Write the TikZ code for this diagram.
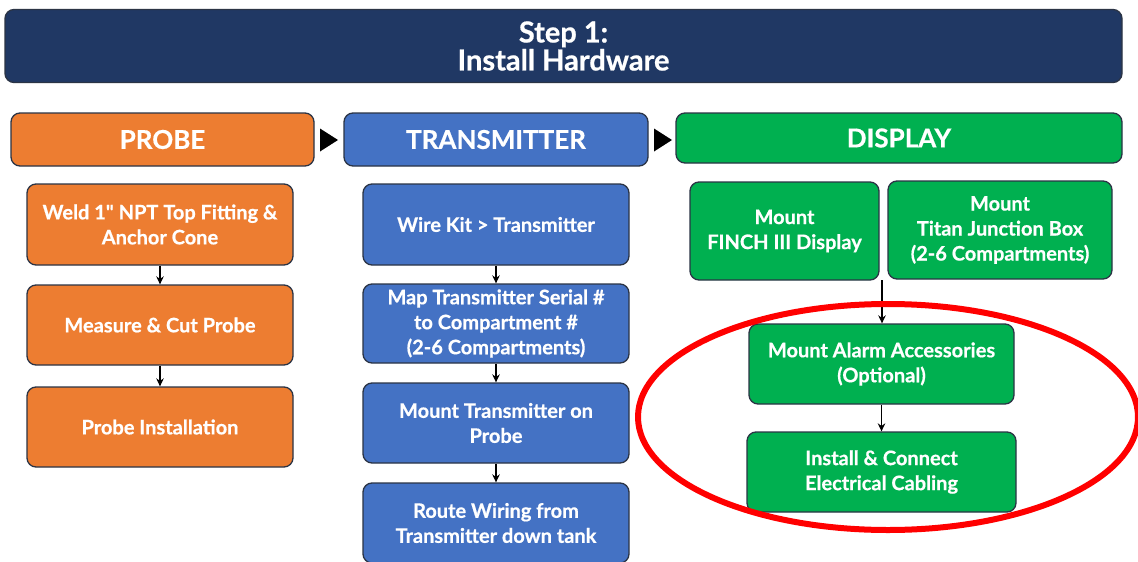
\documentclass[tikz,border=0pt]{standalone}
\usepackage{fontspec}
\setmainfont{Lato}[Ligatures=TeXOff, BoldFeatures={FakeBold=0.6}]
\usetikzlibrary{arrows.meta}

\definecolor{navy}{HTML}{203864}
\definecolor{probeor}{HTML}{ED7D31}
\definecolor{txblue}{HTML}{4472C4}
\definecolor{dispgreen}{HTML}{00B050}
\definecolor{edgegray}{HTML}{2B3445}

\tikzset{
  box/.style={draw=edgegray, line width=1.3pt, rounded corners=9pt,
    text=white, align=center, inner sep=0pt,
    font=\bfseries\fontsize{20}{25}\selectfont},
  header/.style={box, minimum height=53pt,
    font=\bfseries\fontsize{26}{28}\selectfont},
  flow/.style={line width=1.6pt, -{Stealth[length=8pt,width=7.5pt]}},
  headarrow/.style={fill=black},
}

\begin{document}
\begin{tikzpicture}[x=1pt, y=-1pt]
\clip (0,0) rectangle (1138,562);
\fill[white] (0,0) rectangle (1138,562);

% title banner
\node[box, fill=navy, minimum width=1117pt, minimum height=73pt,
      font=\bfseries\fontsize{29}{28}\selectfont] (title) at (563.5,46)
  {Step 1:\\Install Hardware};

% column headers
\node[header, fill=probeor, minimum width=303pt] (probeH) at (162.5,139.5) {PROBE};
\node[header, fill=txblue, minimum width=304pt] (transH) at (496,139.5) {TRANSMITTER};
\node[header, fill=dispgreen, minimum width=446pt, minimum height=50pt] (dispH) at (899,138) {DISPLAY};

% triangles between headers
\fill[headarrow] (320,128.5) -- (338,140) -- (320,151.5) -- cycle;
\fill[headarrow] (654,128.5) -- (672,140) -- (654,151.5) -- cycle;

% probe steps
\node[box, fill=probeor, minimum width=266pt, minimum height=81pt] (p1) at (160,224.5)
  {Weld 1" NPT Top Fitting \&\\Anchor Cone};
\node[box, fill=probeor, minimum width=266pt, minimum height=80pt] (p2) at (160,325)
  {Measure \& Cut Probe};
\node[box, fill=probeor, minimum width=266pt, minimum height=80pt] (p3) at (160,427)
  {Probe Installation};

% transmitter steps
\node[box, fill=txblue, minimum width=266pt, minimum height=81pt] (t1) at (496,224.5)
  {Wire Kit > Transmitter};
\node[box, fill=txblue, minimum width=266pt, minimum height=79pt] (t2) at (496,323.5)
  {Map Transmitter Serial \#\\to Compartment \#\\(2-6 Compartments)};
\node[box, fill=txblue, minimum width=266pt, minimum height=80pt] (t3) at (496,423)
  {Mount Transmitter on\\Probe};
\node[box, fill=txblue, minimum width=266pt, minimum height=80pt] (t4) at (496,523)
  {Route Wiring from\\Transmitter down tank};

% display steps
\node[box, fill=dispgreen, minimum width=189pt, minimum height=98pt] (d1) at (784.5,231)
  {Mount\\FINCH III Display};
\node[box, fill=dispgreen, minimum width=224pt, minimum height=98pt] (d2) at (1000,230)
  {Mount\\Titan Junction Box\\(2-6 Compartments)};
\node[box, fill=dispgreen, minimum width=265pt, minimum height=80pt] (d3) at (881.5,364)
  {Mount Alarm Accessories\\(Optional)};
\node[box, fill=dispgreen, minimum width=269pt, minimum height=80pt] (d4) at (881.5,472)
  {Install \& Connect\\Electrical Cabling};
\coordinate (dsplit) at (882,280);

% connectors
\draw[flow] (p1) -- (p2);
\draw[flow] (p2) -- (p3);
\draw[flow] (t1) -- (t2);
\draw[flow] (t2) -- (t3);
\draw[flow] (t3) -- (t4);
\draw[flow] (dsplit) -- (d3.north -| dsplit);
\draw[flow] (d3) -- (d4);

% highlight ring
\draw[red, line width=6pt] (888,417) ellipse [x radius=250, y radius=113];
\end{tikzpicture}
\end{document}
